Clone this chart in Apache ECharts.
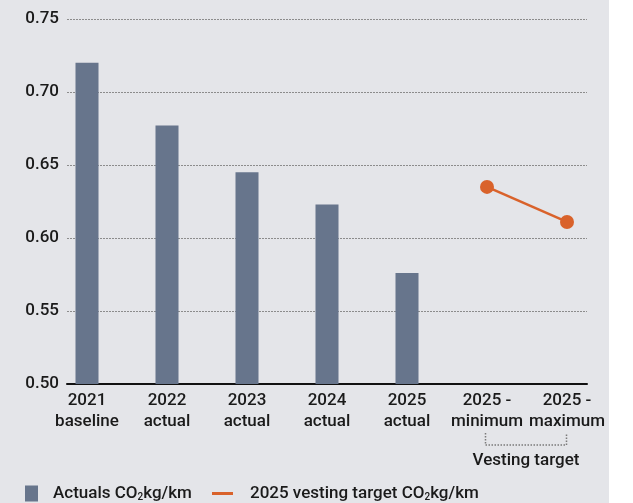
<!DOCTYPE html>
<html>
<head>
<meta charset="utf-8">
<script src="https://cdn.jsdelivr.net/npm/echarts@6/dist/echarts.min.js"></script>
<style>
  html, body { margin: 0; padding: 0; background: #fff; }
  #main { width: 633px; height: 503px; }
</style>
</head>
<body>
<div id="main"></div>
<script>
/* data */
var categories = ['2021\nbaseline', '2022\nactual', '2023\nactual', '2024\nactual', '2025\nactual', '2025 -\nminimum', '2025 -\nmaximum'];
var actuals = [0.72, 0.677, 0.645, 0.623, 0.576];
var targets = [0.635, 0.611];
var actualsName = 'Actuals CO2kg/km';
var targetName = '2025 vesting target CO2kg/km';
var bracketLabel = 'Vesting target';

var font = 'Roboto';
var ink = '#1a1a1a';
var fs = 17;

var barData = actuals.map(function (v, i) { return [i, v]; });
var lineData = targets.map(function (v, i) { return [actuals.length + i, v]; });

var legendRich = {
    sub: { fontSize: 10, fontFamily: font, color: ink, fontWeight: 500, padding: [7, 0, 0, 0] }
};
var legendFormatter = function (name) {
    return name.replace('CO2', 'CO{sub|2}');
};

var myChart = echarts.init(document.getElementById('main'));
var option = {
    backgroundColor: '#fff',
    animation: false,
    textStyle: { fontFamily: font },
    grid: {
        left: 67,
        right: 46,
        top: 19,
        bottom: 119,
        containLabel: false
    },
    legend: [
        {
            left: 25,
            top: 485,
            padding: 0,
            icon: 'rect',
            itemWidth: 13,
            itemHeight: 16,
            data: [actualsName],
            formatter: legendFormatter,
            textStyle: { fontSize: fs, color: ink, fontWeight: 500, fontFamily: font, padding: [0, 0, 0, 10], rich: legendRich }
        },
        {
            left: 212,
            top: 485,
            padding: 0,
            icon: 'rect',
            itemWidth: 21,
            itemHeight: 3,
            data: [targetName],
            formatter: legendFormatter,
            textStyle: { fontSize: fs, color: ink, fontWeight: 500, fontFamily: font, padding: [0, 0, 0, 12], rich: legendRich }
        }
    ],
    xAxis: {
        type: 'value',
        min: -0.25,
        max: 6.25,
        splitLine: { show: false },
        axisTick: { show: false },
        axisLine: {
            show: true,
            onZero: false,
            lineStyle: { color: '#111', width: 2 }
        },
        axisLabel: {
            customValues: categories.map(function (c, i) { return i; }),
            formatter: function (v) { return categories[Math.round(v)]; },
            margin: 6,
            fontSize: fs,
            lineHeight: 21,
            fontWeight: 500,
            fontFamily: font,
            color: ink
        }
    },
    yAxis: {
        type: 'value',
        min: 0.5,
        max: 0.75,
        interval: 0.05,
        axisLine: { show: false },
        axisTick: { show: false },
        axisLabel: {
            margin: 8,
            fontSize: fs,
            fontWeight: 500,
            fontFamily: font,
            color: ink,
            formatter: function (v) { return v.toFixed(2); }
        },
        splitLine: {
            show: true,
            lineStyle: { color: '#8c8c8c', type: [2, 1], width: 1 }
        }
    },
    series: [
        {
            name: actualsName,
            type: 'bar',
            barWidth: 23,
            itemStyle: { color: '#67758c' },
            data: barData
        },
        {
            name: targetName,
            type: 'line',
            symbol: 'circle',
            symbolSize: 14,
            itemStyle: { color: '#d9622b' },
            lineStyle: { color: '#d9622b', width: 2.5 },
            data: lineData
        }
    ]
};
myChart.setOption(option);

/* gray panel + bracket under the vesting target labels */
var pA = myChart.convertToPixel({ xAxisIndex: 0, yAxisIndex: 0 }, [actuals.length, 0.5]);
var pB = myChart.convertToPixel({ xAxisIndex: 0, yAxisIndex: 0 }, [actuals.length + targets.length - 1, 0.5]);
var x1 = Math.round(pA[0]) - 1.5, x2 = Math.round(pB[0]) - 0.5, yTop = pA[1] + 49, yBot = pA[1] + 61;
myChart.setOption({
    graphic: [
        {
            type: 'rect',
            z: -10,
            silent: true,
            shape: { x: 0, y: 0, width: 609, height: 503 },
            style: { fill: '#e4e5e9' }
        },
        {
            type: 'polyline',
            silent: true,
            shape: { points: [[x1, yTop], [x1, yBot], [x2, yBot], [x2, yTop]] },
            style: { stroke: '#7a7a7a', lineWidth: 1.5, lineDash: [1.5, 1.5], fill: null }
        },
        {
            type: 'text',
            silent: true,
            x: (x1 + x2) / 2,
            y: yBot + 16,
            style: {
                text: bracketLabel,
                align: 'center',
                verticalAlign: 'middle',
                font: '500 ' + fs + 'px ' + font,
                fill: ink
            }
        }
    ]
});
</script>
</body>
</html>
